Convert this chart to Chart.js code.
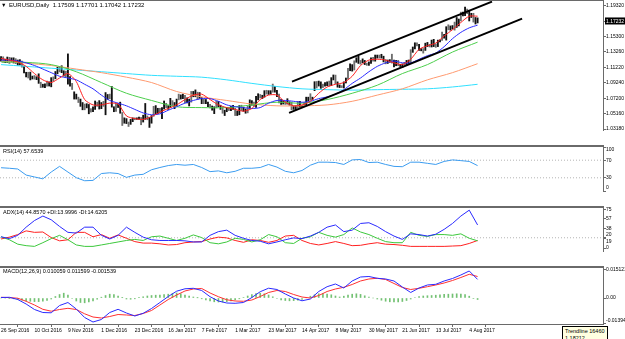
<!DOCTYPE html>
<html>
<head>
<meta charset="utf-8">
<script src="https://cdn.jsdelivr.net/npm/chart.js@4.4.1/dist/chart.umd.min.js"></script>
<style>
  html, body { margin: 0; padding: 0; background: #fff; }
  #wrap { position: relative; width: 625px; height: 339px; overflow: hidden; background: #fff;
          font-family: 'Liberation Sans', Arial, sans-serif; }
  canvas { position: absolute; left: 0; }
  .lbl { position: absolute; font-size: 5.5px; line-height: 6px; color: #000; white-space: nowrap; }
  .sep { position: absolute; left: 0; width: 604px; background: #6a6a6a; }
  #tip { position: absolute; left: 562px; top: 326px; width: 46px; height: 16px; background: #ffffe1;
         border: 1px solid #000; box-sizing: border-box; padding: 1px 0 0 2px;
         font-size: 5.5px; line-height: 6.5px; color: #000; white-space: nowrap; }
</style>
</head>
<body>
<div id="wrap">
  <canvas id="cPrice" width="625" height="146" style="top:0px"></canvas>
  <canvas id="cRsi" width="625" height="61" style="top:146px"></canvas>
  <canvas id="cAdx" width="625" height="60" style="top:207px"></canvas>
  <canvas id="cMacd" width="625" height="72" style="top:267px"></canvas>

  <div class="sep" style="top:0px;height:1px"></div>
  <div class="sep" style="top:145px;height:2px"></div>
  <div class="sep" style="top:206px;height:2px"></div>
  <div class="sep" style="top:266px;height:2px"></div>

  <div class="lbl" style="left:1px;top:2px">▼</div>
  <div class="lbl" style="left:9px;top:2px;font-size:6px">EURUSD,Daily&nbsp; 1.17509 1.17701 1.17042 1.17232</div>
  <div class="lbl" style="left:3px;top:148px">RSI(14) 57.6539</div>
  <div class="lbl" style="left:3px;top:209px">ADX(14) 44.8570 +DI:13.9996 -DI:14.6205</div>
  <div class="lbl" style="left:3px;top:268px">MACD(12,26,9) 0.010059 0.011599 -0.001539</div>
  <div id="tip">Trendline 16460<br>1.18212</div>
</div>

<script>
// ---- daily candles (bar index 0 = 26 Sep 2016) ----
const lows = [
  1.1205,1.1190,1.1185,1.1188,1.1175, 1.1195,1.1181,1.1172,1.1152,1.1155,
  1.1125,1.1050,1.0999,1.0985,1.0960, 1.0972,1.0970,1.0963,1.0915,1.0860,
  1.0864,1.0860,1.0880,1.0880,1.0870, 1.0945,1.0975,1.1040,1.1065,1.1055,
  1.1010,1.1000,1.0905,1.0880,1.0835, 1.0710,1.0710,1.0665,1.0615,1.0570,
  1.0570,1.0595,1.0518,1.0540,1.0545, 1.0575,1.0615,1.0580,1.0585,1.0615,
  1.0505,1.0705,1.0715,1.0605,1.0545, 1.0550,1.0600,1.0525,1.0365,1.0395,
  1.0390,1.0352,1.0380,1.0415,1.0440, 1.0445,1.0445,1.0375,1.0410,1.0445,
  1.0440,1.0340,1.0395,1.0485,1.0520, 1.0520,1.0530,1.0455,1.0580,1.0595,
  1.0575,1.0600,1.0625,1.0585,1.0620, 1.0700,1.0710,1.0715,1.0660,1.0660,
  1.0620,1.0670,1.0740,1.0740,1.0705, 1.0720,1.0650,1.0650,1.0650,1.0610,
  1.0595,1.0565,1.0520,1.0595,1.0610, 1.0575,1.0525,1.0495,1.0545,1.0560,
  1.0560,1.0575,1.0495,1.0495,1.0505, 1.0560,1.0550,1.0525,1.0530,1.0590,
  1.0630,1.0615,1.0600,1.0700,1.0725, 1.0715,1.0735,1.0775,1.0770,1.0775,
  1.0800,1.0800,1.0740,1.0660,1.0640, 1.0645,1.0640,1.0645,1.0630,1.0570,
  1.0575,1.0570,1.0590,1.0605,1.0605, 1.0610,1.0635,1.0685,1.0695,1.0700,
  1.0820,1.0855,1.0880,1.0850,1.0860, 1.0880,1.0885,1.0880,1.0885,1.0960,
  1.0910,1.0865,1.0860,1.0860,1.0855, 1.0920,1.0970,1.1080,1.1075,1.1090,
  1.1190,1.1175,1.1165,1.1185,1.1160, 1.1150,1.1150,1.1175,1.1205,1.1205,
  1.1245,1.1245,1.1245,1.1195,1.1170, 1.1175,1.1190,1.1180,1.1130,1.1145,
  1.1145,1.1135,1.1120,1.1150,1.1150, 1.1165,1.1175,1.1320,1.1365,1.1405,
  1.1345,1.1340,1.1310,1.1345,1.1395, 1.1390,1.1390,1.1395,1.1385,1.1395,
  1.1455,1.1475,1.1505,1.1480,1.1615, 1.1610,1.1625,1.1610,1.1645,1.1665,
  1.1730,1.1795,1.1800,1.1825,1.1730, 1.1775,1.1715,1.1690,1.1704
];
const highs = [
  1.1266,1.1262,1.1230,1.1259,1.1255, 1.1248,1.1249,1.1238,1.1220,1.1225,
  1.1206,1.1140,1.1060,1.1060,1.1062, 1.1010,1.1018,1.1002,1.1040,1.0930,
  1.0904,1.0910,1.0945,1.0935,1.0990, 1.1000,1.1070,1.1125,1.1125,1.1145,
  1.1080,1.1075,1.1300,1.1005,1.0915, 1.0805,1.0775,1.0735,1.0710,1.0665,
  1.0645,1.0650,1.0640,1.0585,1.0610, 1.0685,1.0670,1.0690,1.0665,1.0680,
  1.0795,1.0770,1.0775,1.0874,1.0610, 1.0650,1.0650,1.0670,1.0535,1.0465,
  1.0455,1.0410,1.0445,1.0465,1.0465, 1.0465,1.0475,1.0470,1.0500,1.0653,
  1.0490,1.0470,1.0495,1.0615,1.0625, 1.0590,1.0590,1.0600,1.0685,1.0655,
  1.0625,1.0720,1.0690,1.0665,1.0710, 1.0775,1.0765,1.0775,1.0760,1.0725,
  1.0710,1.0810,1.0810,1.0830,1.0800, 1.0795,1.0730,1.0710,1.0705,1.0670,
  1.0640,1.0620,1.0610,1.0680,1.0680, 1.0630,1.0610,1.0565,1.0600,1.0600,
  1.0615,1.0630,1.0590,1.0555,1.0625, 1.0630,1.0605,1.0580,1.0615,1.0700,
  1.0690,1.0670,1.0745,1.0780,1.0770, 1.0760,1.0820,1.0825,1.0820,1.0820,
  1.0906,1.0875,1.0825,1.0775,1.0705, 1.0690,1.0680,1.0715,1.0675,1.0670,
  1.0620,1.0625,1.0680,1.0680,1.0625, 1.0665,1.0735,1.0735,1.0780,1.0735,
  1.0937,1.0940,1.0945,1.0935,1.0905, 1.0925,1.0935,1.0945,1.0990,1.1025,
  1.1023,1.0935,1.0895,1.0885,1.0935, 1.0985,1.1110,1.1170,1.1160,1.1210,
  1.1250,1.1268,1.1215,1.1235,1.1215, 1.1180,1.1195,1.1250,1.1255,1.1285,
  1.1285,1.1285,1.1295,1.1270,1.1225, 1.1220,1.1225,1.1296,1.1220,1.1215,
  1.1215,1.1165,1.1170,1.1190,1.1215, 1.1220,1.1355,1.1390,1.1445,1.1445,
  1.1425,1.1370,1.1370,1.1440,1.1450, 1.1425,1.1480,1.1490,1.1430,1.1480,
  1.1485,1.1585,1.1555,1.1655,1.1680, 1.1665,1.1670,1.1715,1.1775,1.1755,
  1.1845,1.1845,1.1910,1.1885,1.1870, 1.1830,1.1830,1.1775,1.1770
];

// ---- moving averages, read every 4 bars (red, blue) and every 12 bars (green, salmon, cyan) ----
const MA_STEP = 4, MA_LONG_STEP = 12;
const maRed = [1.1242,1.1219,1.1195,1.1137,1.1043,1.0961,1.0926,1.0985,1.1043,1.0938,1.0704,1.0634,1.0634,1.0657,1.0645,1.0490,
  1.0455,1.0445,1.0482,1.0540,1.0587,1.0634,1.0704,1.0762,1.0774,1.0704,1.0634,1.0599,1.0575,1.0552,1.0587,1.0704,
  1.0762,1.0762,1.0669,1.0622,1.0634,1.0681,1.0786,1.0868,1.0903,1.0926,1.1008,1.1148,1.1219,1.1230,1.1219,1.1183,
  1.1160,1.1230,1.1359,1.1406,1.1441,1.1534,1.1616,1.1710,1.1792,1.1792];
const maBlue = [1.1219,1.1219,1.1207,1.1183,1.1148,1.1102,1.1055,1.1008,1.0985,1.0961,1.0903,1.0844,1.0762,1.0692,1.0657,1.0622,
  1.0575,1.0529,1.0505,1.0517,1.0564,1.0610,1.0657,1.0692,1.0716,1.0716,1.0681,1.0634,1.0610,1.0599,1.0587,1.0599,
  1.0657,1.0692,1.0692,1.0681,1.0669,1.0681,1.0716,1.0739,1.0774,1.0833,1.0915,1.0985,1.1067,1.1137,1.1183,1.1207,
  1.1183,1.1183,1.1230,1.1277,1.1312,1.1394,1.1499,1.1581,1.1640,1.1675];
const maGreen = [1.1195,1.1189,1.1160,1.1067,1.0926,1.0786,1.0692,1.0610,1.0599,1.0599,1.0634,1.0669,1.0657,1.0704,1.0786,1.0891,1.1043,1.1160,1.1324,1.1453];
const maSalmon = [1.1207,1.1178,1.1148,1.1102,1.1055,1.0996,1.0926,1.0809,1.0739,1.0692,1.0645,1.0622,1.0622,1.0634,1.0681,1.0762,1.0844,1.0961,1.1055,1.1172];
const maCyan = [1.1160,1.1137,1.1113,1.1090,1.1067,1.1043,1.1020,1.1008,1.0996,1.0961,1.0915,1.0874,1.0844,1.0833,1.0827,1.0833,1.0838,1.0844,1.0868,1.0903];

// ---- channel trend lines (bar, price) ----
const trendUpperBars = [139.2, 234.9], trendUpperPrices = [1.0938, 1.1982];
const trendLowerBars = [137.8, 249.3], trendLowerPrices = [1.0529, 1.1760];

// ---- indicators, read every 4 bars ----
const IND_STEP = 4;
const rsi = [52.9,51.7,50,36.2,31.9,27.6,43.1,56,43.1,30.2,23.3,24.1,39.7,41.4,39.7,31,36.2,37.9,48.3,53.4,57.8,60.3,58.6,60.3,
  53.4,44,45.7,41.4,44.8,51.7,51.7,53.4,60.3,54.3,44.8,41.4,46.6,58.6,65.5,65.5,64.7,60.3,70.7,71.6,64.7,65.5,60.3,56,
  55.2,65.5,65.5,62.9,60.3,67.2,70.7,69,67.2,57.7];
const adx = [21.9,18.3,24.7,40.6,53.5,62.2,55,42,30.5,29.1,40.6,40.6,24.7,17.6,24.7,40.6,30.5,21.2,16.1,14.7,14.7,14.7,14,11.8,
  11.8,24.7,31.9,34.8,24.7,19,14.7,13.2,8.2,11.8,16.1,19.7,18.3,23.3,30.5,40.6,44.9,31.9,34.8,47.8,49.2,42,31.9,23.3,
  16.8,27.6,26.2,23.3,26.9,36.3,47.8,62.2,73.7,44.9];
const plusDI = [21.9,16.1,7.5,4.6,3.2,10.4,18.3,24.7,16.1,6,3.2,3.2,6,8.9,11.8,14.7,16.8,14.7,21.9,23.3,19,14.7,19,25.5,
  20.4,10.4,8.2,11.8,19,16.8,11.8,16.1,26.2,21.9,10.4,8.9,19,21.9,30.5,24.7,21.2,26.2,39.1,31.2,26.2,19,12.5,10.4,
  10.4,30.5,24.7,22.6,26.2,26.2,24.7,27.6,19,14];
const minusDI = [17.6,21.2,26.2,33.4,30.5,31.2,20.4,14,16.1,30.5,30.5,21.9,26.2,19,25.5,19,12.5,9.6,9.6,8.2,6,6.8,10.4,11.8,
  12.5,17.6,21.2,19.7,14.7,11.1,16.1,14.7,11.1,14.7,23.3,24.7,14.7,8.9,6,8.9,12.5,8.9,4.6,5.3,8.2,10.4,7.5,6.8,
  5.3,3.2,3.2,3.2,3.2,3.2,3.9,4.6,8.9,14.7];
const macd = [0.00027,0.00038,-0.00081,-0.00324,-0.00621,-0.00783,-0.00799,-0.00405,-0.00243,-0.00594,-0.01053,-0.01296,
  -0.01161,-0.00783,-0.00610,-0.00810,-0.00972,-0.00826,-0.00567,-0.00243,0.00081,0.00367,0.00497,0.00524,0.00405,0.00070,
  -0.00162,-0.00270,-0.00286,-0.00243,0.00027,0.00340,0.00529,0.00459,0.00216,0,-0.00151,-0.00054,0.00351,0.00610,0.00756,
  0.00540,0.00918,0.01134,0.01161,0.01064,0.01026,0.00918,0.00594,0.00297,0.00540,0.00702,0.00740,0.00918,0.01053,0.01242,
  0.01458,0.01004];
const macdSignal = [0.00038,0.00022,-0.00011,-0.00178,-0.00378,-0.00610,-0.00713,-0.00621,-0.00556,-0.00621,-0.00853,-0.01026,
  -0.01080,-0.00999,-0.00891,-0.00918,-0.00945,-0.00837,-0.00675,-0.00378,-0.00081,0.00162,0.00378,0.00486,0.00513,0.00270,
  0.00070,-0.00097,-0.00162,-0.00178,-0.00108,0.00081,0.00297,0.00405,0.00351,0.00189,0.00054,0,0.00135,0.00351,0.00486,
  0.00578,0.00729,0.00918,0.01026,0.01064,0.00999,0.00783,0.00567,0.00459,0.00524,0.00610,0.00702,0.00810,0.00945,0.01107,
  0.01280,0.01161];
// histogram, read every 2 bars
const HIST_STEP = 2;
const macdHist = [0,0,-0.00016,-0.00043,-0.00081,-0.00119,-0.00151,-0.00178,-0.00194,-0.00194,-0.00173,-0.00130,-0.00054,
  0.00081,0.00189,0.00259,0.00162,-0.00027,-0.00162,-0.00243,-0.00259,-0.00216,-0.00162,-0.00065,0.00043,0.00135,0.00205,
  0.00189,0.00108,0.00016,-0.00054,-0.00065,-0.00043,0.00016,0.00065,0.00108,0.00135,0.00151,0.00162,0.00184,0.00205,
  0.00243,0.00270,0.00227,0.00162,0.00108,0.00054,0.00011,-0.00043,-0.00108,-0.00162,-0.00205,-0.00216,-0.00216,-0.00194,
  -0.00151,-0.00097,-0.00043,0.00027,0.00108,0.00189,0.00243,0.00259,0.00227,0.00162,0.00065,-0.00027,-0.00097,-0.00135,
  -0.00151,-0.00140,-0.00119,-0.00081,0.00011,0.00097,0.00173,0.00227,0.00243,0.00216,0.00173,0.00108,0.00054,0.00097,
  0.00162,0.00205,0.00227,0.00194,0.00119,0.00043,0,-0.00054,-0.00119,-0.00173,-0.00205,-0.00216,-0.00216,-0.00189,
  -0.00135,-0.00054,0.00027,0.00081,0.00108,0.00124,0.00135,0.00151,0.00173,0.00194,0.00205,0.00216,0.00227,0.00216,
  0.00189,0.00097,-0.00027,-0.00081];

const rsiLevels = [70, 30];
const adxLevels = [20];

// ---- axis labels ----
const dateBars = [0, 16, 32, 48, 64, 80, 96, 112, 128, 144, 160, 176, 192, 208, 224];
const dateLabels = ['26 Sep 2016','10 Oct 2016','9 Nov 2016','1 Dec 2016','23 Dec 2016','16 Jan 2017','7 Feb 2017',
  '1 Mar 2017','23 Mar 2017','14 Apr 2017','8 May 2017','30 May 2017','21 Jun 2017','13 Jul 2017','4 Aug 2017'];
const priceTicks = [1.19320, 1.17232, 1.15300, 1.13260, 1.11220, 1.09240, 1.07200, 1.05160, 1.03180];
const priceTickLabels = ['1.19320','1.17232','1.15300','1.13260','1.11220','1.09240','1.07200','1.05160','1.03180'];
const rsiTicks = [100, 70, 30, 0];
const rsiTickLabels = [['', '100'], '70', '30', ['0', '']];
const adxTicks = [75, 57, 38, 20, 19, 0];
const adxTickLabels = ['75', '57', '38', ['20', ''], ['', '19'], '0'];
const macdTicks = [0.015121, 0, -0.013945];
const macdTickLabels = ['0.015121', '0.00', ['-0.013945', '']];

const FONT = "'Liberation Sans', Arial, sans-serif";
const AXIS = '#6a6a6a';
const X_MIN = -0.5, X_MAX = 288;
Chart.defaults.font.family = FONT;
Chart.defaults.font.size = 5;

const pts = (vals, step) => vals.map((v, k) => ({ x: k * step, y: v }));
const pairs = (xs, ys) => xs.map((x, k) => ({ x: x, y: ys[k] }));
const level = v => [{ x: X_MIN, y: v }, { x: X_MAX, y: v }];

function line(data, color, extra) {
  return Object.assign({ type: 'line', data: data, borderColor: color, borderWidth: 1,
    pointRadius: 0, tension: 0, fill: false }, extra || {});
}

function xScale(show) {
  return {
    type: 'linear', min: X_MIN, max: X_MAX, offset: false, display: show,
    grid: { drawOnChartArea: false, tickLength: 3, color: AXIS },
    border: { color: AXIS },
    afterBuildTicks: s => { s.ticks = dateBars.map(v => ({ value: v })); },
    afterFit: s => { s.height = 15; s.paddingLeft = 0; s.paddingRight = 0; },
    ticks: { autoSkip: false, maxRotation: 0, minRotation: 0, align: 'start', padding: 1,
      color: '#000', font: { family: FONT, size: 5 }, callback: (v, i) => dateLabels[i] }
  };
}

function yScale(min, max, vals, labels, extra) {
  return {
    position: 'right', min: min, max: max,
    grid: { drawOnChartArea: false, tickLength: 3, color: AXIS },
    border: { color: AXIS },
    afterBuildTicks: s => { s.ticks = vals.map(v => ({ value: v })); },
    afterFit: s => { s.width = 22; s.paddingTop = 0; s.paddingBottom = 0; },
    ticks: Object.assign({ autoSkip: false, padding: 0, color: '#000',
      font: { family: FONT, size: 5 }, callback: (v, i) => labels[i] }, extra || {})
  };
}

function baseOptions(padTop, padBottom, y, showX) {
  return {
    responsive: false, animation: false, devicePixelRatio: 1, events: [],
    layout: { padding: { top: padTop, bottom: padBottom, left: 0, right: 0 } },
    plugins: { legend: { display: false }, tooltip: { enabled: false } },
    scales: { x: xScale(showX), y: y }
  };
}

// price window
new Chart(document.getElementById('cPrice'), {
  type: 'bar',
  data: { datasets: [
    line(pairs(trendUpperBars, trendUpperPrices), '#000', { borderWidth: 2, order: 0 }),
    line(pairs(trendLowerBars, trendLowerPrices), '#000', { borderWidth: 2, order: 0 }),
    line(pts(maRed, MA_STEP), '#ff2020', { tension: 0.25, order: 1 }),
    line(pts(maBlue, MA_STEP), '#2a2aff', { tension: 0.25, order: 2 }),
    line(pts(maGreen, MA_LONG_STEP), '#4ccf4c', { tension: 0.3, order: 3 }),
    line(pts(maSalmon, MA_LONG_STEP), '#ff9a70', { tension: 0.3, order: 4 }),
    line(pts(maCyan, MA_LONG_STEP), '#30e0ff', { tension: 0.3, order: 5 }),
    { type: 'bar', data: lows.map((lo, i) => ({ x: i, y: [lo, highs[i]] })),
      backgroundColor: (c) => (c.dataIndex % 3 === 1 ? '#6e6e6e' : '#111'),
      borderWidth: 0, barThickness: 1.2, grouped: false, order: 10 }
  ]},
  options: baseOptions(1, 1, yScale(1.03063, 1.19905, priceTicks, priceTickLabels, {
    showLabelBackdrop: c => c.index === 1,
    backdropColor: '#000',
    backdropPadding: { top: 1, bottom: 0, left: 1, right: 4 },
    color: c => c.index === 1 ? '#fff' : '#000'
  }), false)
});

// RSI window
new Chart(document.getElementById('cRsi'), {
  type: 'line',
  data: { datasets: [
    line(level(rsiLevels[0]), '#b4b4b4', { borderDash: [1, 2], order: 5 }),
    line(level(rsiLevels[1]), '#b4b4b4', { borderDash: [1, 2], order: 5 }),
    line(pts(rsi, IND_STEP), '#3b9cf0', { order: 1 })
  ]},
  options: baseOptions(1, 1, yScale(0, 100, rsiTicks, rsiTickLabels), false)
});

// ADX window
new Chart(document.getElementById('cAdx'), {
  type: 'line',
  data: { datasets: [
    line(level(adxLevels[0]), '#b4b4b4', { borderDash: [1, 2], order: 5 }),
    line(pts(minusDI, IND_STEP), '#ff2020', { order: 3 }),
    line(pts(plusDI, IND_STEP), '#3cc83c', { order: 2 }),
    line(pts(adx, IND_STEP), '#2a2aff', { order: 1 })
  ]},
  options: baseOptions(1, 1, yScale(-5.77, 77.88, adxTicks, adxTickLabels), false)
});

// MACD window
new Chart(document.getElementById('cMacd'), {
  type: 'bar',
  data: { datasets: [
    line(pts(macd, IND_STEP), '#2a2aff', { order: 1 }),
    line(pts(macdSignal, IND_STEP), '#ff3030', { order: 2 }),
    { type: 'bar', data: pts(macdHist, HIST_STEP), backgroundColor: 'rgba(40,160,40,0.65)',
      borderWidth: 0, barThickness: 1, grouped: false, order: 5 }
  ]},
  options: baseOptions(1, 0, yScale(-0.014039, 0.016199, macdTicks, macdTickLabels), true)
});
</script>
</body>
</html>
